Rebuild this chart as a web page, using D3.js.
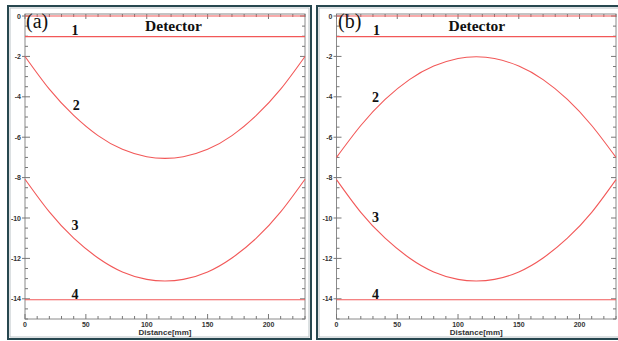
<!DOCTYPE html>
<html>
<head>
<meta charset="utf-8">
<script src="https://cdn.jsdelivr.net/npm/d3@7"></script>
<style>
  body { margin: 0; background: #fff; }
  svg { display: block; }
  .tickLabel { font-family: "Liberation Sans", Arial, sans-serif; font-size: 7px; font-weight: bold; fill: #333; }
  .axisTitle { font-family: "Liberation Sans", Arial, sans-serif; font-size: 8px; font-weight: bold; fill: #333; }
  .num { font-family: "Liberation Serif", serif; font-size: 14px; font-weight: bold; fill: #111; }
  .det { font-family: "Liberation Serif", serif; font-size: 15.5px; font-weight: bold; fill: #111; }
  .panelTag { font-family: "Liberation Serif", serif; font-size: 20px; fill: #111; }
</style>
</head>
<body>
<div class="chart"></div>
<script>
var svgWidth = 618;
var svgHeight = 341;

// data
var distance = [0, 20, 40, 60, 80, 100, 115, 130, 150, 170, 190, 210, 230];
var curve2a = [-2.0, -3.62, -4.92, -5.92, -6.6, -6.97, -7.05, -6.97, -6.6, -5.92, -4.92, -3.62, -2.0];
var curve3a = [-8.08, -9.7, -11.0, -11.98, -12.67, -13.04, -13.12, -13.04, -12.67, -11.98, -11.0, -9.7, -8.08];
var curve2b = [-7.0, -5.42, -4.13, -3.15, -2.48, -2.1, -2.02, -2.1, -2.48, -3.15, -4.13, -5.42, -7.0];
var curve3b = [-8.1, -9.72, -11.0, -11.98, -12.67, -13.04, -13.12, -13.04, -12.67, -11.98, -11.0, -9.72, -8.1];
var flatLines = [0, -1.02, -14.05];   // top edge, detector line 1, line 4
var xTicks = [0, 50, 100, 150, 200];
var yTicks = [0, -2, -4, -6, -8, -10, -12, -14];

var svg = d3.select(".chart")
  .append("svg")
  .attr("width", svgWidth)
  .attr("height", svgHeight);

function drawPanel(opt) {
  // outer frame
  svg.append("rect")
    .attr("x", opt.frame[0]).attr("y", opt.frame[1])
    .attr("width", opt.frame[2]).attr("height", opt.frame[3])
    .attr("fill", "none").attr("stroke", "#27474f").attr("stroke-width", 2);
  svg.append("rect")
    .attr("x", opt.frame[0] + 2).attr("y", opt.frame[1] + 2)
    .attr("width", opt.frame[2] - 4).attr("height", opt.frame[3] - 4)
    .attr("fill", "none").attr("stroke", "#b9c2c5").attr("stroke-width", 1);

  var x = d3.scaleLinear().domain([0, 230]).range([opt.left, opt.right]);
  var y = d3.scaleLinear().domain([-15, 0.1]).range([319, 14]);

  var g = svg.append("g");

  // plot box
  g.append("rect")
    .attr("x", x(0)).attr("y", y(0.1))
    .attr("width", x(230) - x(0)).attr("height", y(-15) - y(0.1))
    .attr("fill", "none").attr("stroke", "#8a8a8a").attr("stroke-width", 1);

  var xMinor = d3.range(0, 231, 10);
  var yMinor = d3.range(-15, 0.01, 0.5);
  var tickCol = "#777";

  // x ticks, bottom and top, pointing inward
  xMinor.forEach(function(v) {
    var len = (v % 50 === 0) ? 5 : 3;
    g.append("line").attr("x1", x(v)).attr("x2", x(v))
      .attr("y1", y(-15)).attr("y2", y(-15) - len).attr("stroke", tickCol);
    g.append("line").attr("x1", x(v)).attr("x2", x(v))
      .attr("y1", y(0.1)).attr("y2", y(0.1) + len).attr("stroke", tickCol);
  });
  // y ticks, left and right
  yMinor.forEach(function(v) {
    var major = Math.abs(v % 2) < 1e-6 && v > -15;
    var len = major ? 5 : 3;
    g.append("line").attr("x1", x(0) - (major ? 3 : 0)).attr("x2", x(0) + len)
      .attr("y1", y(v)).attr("y2", y(v)).attr("stroke", tickCol);
    g.append("line").attr("x1", x(230)).attr("x2", x(230) - len)
      .attr("y1", y(v)).attr("y2", y(v)).attr("stroke", tickCol);
  });

  g.selectAll(".xl").data(xTicks).enter().append("text")
    .attr("class", "tickLabel")
    .attr("x", d => x(d)).attr("y", 327)
    .attr("text-anchor", "middle").text(d => d);

  g.selectAll(".yl").data(yTicks).enter().append("text")
    .attr("class", "tickLabel")
    .attr("x", x(0) - 4).attr("y", d => y(d) + 2.5)
    .attr("text-anchor", "end").text(d => d);

  g.append("text").attr("class", "axisTitle")
    .attr("x", x(115)).attr("y", 335)
    .attr("text-anchor", "middle").text("Distance[mm]");

  // red lines
  var red = "#f25858";
  flatLines.forEach(function(v) {
    g.append("line").attr("x1", x(0)).attr("x2", x(230))
      .attr("y1", y(v)).attr("y2", y(v))
      .attr("stroke", red).attr("stroke-width", 1.1);
  });

  var line = d3.line().curve(d3.curveNatural)
    .x(function(d, i) { return x(distance[i]); })
    .y(function(d) { return y(d); });

  opt.curves.forEach(function(c) {
    g.append("path").attr("d", line(c))
      .attr("fill", "none").attr("stroke", red).attr("stroke-width", 1.1);
  });

  g.append("text").attr("class", "panelTag")
    .attr("x", opt.tag[0]).attr("y", 28).text(opt.tag[1]);

  g.append("text").attr("class", "det")
    .attr("x", x(opt.detX)).attr("y", 31)
    .attr("text-anchor", "middle").text("Detector");

  opt.nums.forEach(function(n) {
    g.append("text").attr("class", "num")
      .attr("x", x(n[1])).attr("y", y(n[2]))
      .attr("text-anchor", "middle").text(n[0]);
  });
}

drawPanel({
  frame: [8, 6, 303, 333],
  left: 25, right: 305,
  curves: [curve2a, curve3a],
  tag: [26, "(a)"],
  detX: 122,
  nums: [["1", 41, -0.94], ["2", 42, -4.65], ["3", 41, -10.6], ["4", 41, -14.0]]
});

drawPanel({
  frame: [317, 6, 305, 333],
  left: 336.5, right: 616,
  curves: [curve2b, curve3b],
  tag: [338, "(b)"],
  detX: 115.5,
  nums: [["1", 33, -0.94], ["2", 32, -4.26], ["3", 32, -10.2], ["4", 32, -14.0]]
});
</script>
</body>
</html>
